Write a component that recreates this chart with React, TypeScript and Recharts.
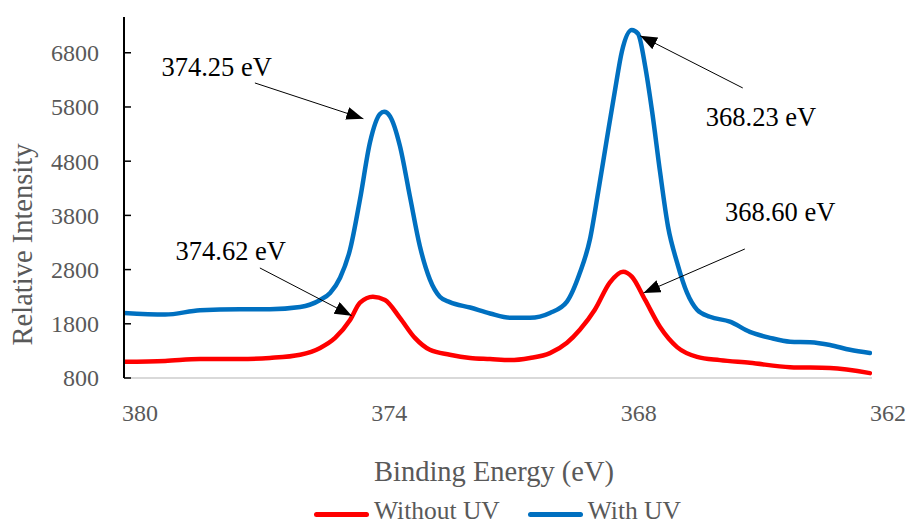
import React from 'react';
import { LineChart, Line, XAxis, YAxis, Legend, ReferenceLine, ReferenceDot } from 'recharts';

// binding energy ticks (reversed axis) and intensity ticks
const energyTicks = [380, 374, 368, 362];
const intensityTicks = [800, 1800, 2800, 3800, 4800, 5800, 6800];

// Without UV (red)
const withoutUvEnergy = [
  380.0, 379.01, 378.17, 377.21, 376.49, 375.76, 375.28, 374.92, 374.56, 374.32,
  374.01, 373.72, 373.36, 373.0, 372.64, 372.16, 371.67, 371.19, 370.71, 370.23,
  369.75, 369.34, 369.03, 368.67, 368.31, 367.99, 367.78, 367.46, 367.1, 366.69,
  366.21, 365.66, 364.94, 363.97, 363.01, 362.05,
];
const withoutUvIntensity = [
  1100, 1115, 1150, 1150, 1170, 1230, 1355, 1540, 1870, 2190,
  2300, 2240, 1910, 1540, 1320, 1230, 1170, 1150, 1130, 1170,
  1260, 1450, 1690, 2060, 2560, 2760, 2670, 2240, 1740, 1370,
  1190, 1130, 1080, 1000, 985, 890,
];

// With UV (blue)
const withUvEnergy = [
  380.0, 379.01, 378.17, 377.21, 376.49, 375.76, 375.28, 375.04, 374.8, 374.56,
  374.32, 374.08, 373.84, 373.74, 373.6, 373.36, 373.12, 372.88, 372.64, 372.4,
  372.16, 371.67, 371.19, 370.71, 370.23, 369.75, 369.34, 369.03, 368.79, 368.59,
  368.38, 368.18, 368.02, 367.78, 367.63, 367.46, 367.29, 367.1, 366.91, 366.69,
  366.45, 366.21, 365.9, 365.42, 364.94, 364.45, 363.97, 363.49, 363.01, 362.53,
  362.05,
];
const withUvIntensity = [
  2000, 1970, 2050, 2070, 2070, 2110, 2240, 2370, 2650, 3170,
  4100, 5150, 5670, 5710, 5630, 5080, 4150, 3230, 2620, 2300,
  2200, 2100, 1990, 1910, 1910, 2000, 2210, 2740, 3350, 4230,
  5210, 6130, 6820, 7220, 7150, 6560, 5710, 4600, 3600, 2930,
  2370, 2060, 1930, 1840, 1650, 1540, 1470, 1460, 1410, 1320,
  1260,
];

const seriesNames = ['Without UV', 'With UV'];

// peak annotations: text anchor, arrow start and arrow tip in axis units
const peakLabels = ['374.25 eV', '374.62 eV', '368.23 eV', '368.60 eV'];
const labelAt = [[377.77, 6378], [377.43, 2983], [364.67, 5455], [364.21, 3689]];
const arrowFrom = [[376.85, 6243], [376.73, 2830], [365.11, 6151], [365.06, 3180]];
const arrowTo = [[374.24, 5584], [374.52, 1949], [367.58, 7115], [367.5, 2368]];

const RED = '#FF0000';
const BLUE = '#0070C0';
const GREY = '#595959';

const withoutUvData = withoutUvEnergy.map((ev, i) => ({ ev, v: withoutUvIntensity[i] }));
const withUvData = withUvEnergy.map((ev, i) => ({ ev, v: withUvIntensity[i] }));

const YTick = ({ x, y, payload }: any) => (
  <g>
    <line x1={x + 25} x2={x + 32} y1={y} y2={y} stroke="#000" strokeWidth={1.5} />
    <text x={x} y={y} dy="0.35em" textAnchor="end" fontSize={24} fill={GREY}>
      {payload.value}
    </text>
  </g>
);

const XTick = ({ x, y, payload }: any) => (
  <text x={x + 16} y={y + 43} textAnchor="middle" fontSize={24} fill={GREY}>
    {payload.value}
  </text>
);

const renderLegend = (props: any) => {
  // keep series order (recharts sorts legend items by name)
  const items = [...(props.payload || [])].sort(
    (a: any, b: any) => seriesNames.indexOf(a.value) - seriesNames.indexOf(b.value)
  );
  return (
    <div
      style={{
        display: 'flex',
        justifyContent: 'center',
        alignItems: 'flex-start',
        gap: 28,
        height: 40,
        paddingLeft: 88,
        paddingTop: 13,
        boxSizing: 'border-box',
        fontSize: 25.5,
        lineHeight: '25px',
        color: GREY,
      }}
    >
      {items.map((entry: any) => (
        <div key={entry.value} style={{ display: 'flex', alignItems: 'center' }}>
          <span
            style={{
              display: 'inline-block',
              width: 55,
              height: 5,
              borderRadius: 3,
              background: entry.color,
              marginRight: 5,
              position: 'relative',
              top: 4,
            }}
          />
          <span>{entry.value}</span>
        </div>
      ))}
    </div>
  );
};

export default function App() {
  return (
    <div style={{ position: 'absolute', left: 0, top: 0, width: 907, height: 525, background: '#fff' }}>
      <svg width={0} height={0} style={{ position: 'absolute' }}>
        <defs>
          <marker
            id="arrowHead"
            markerUnits="userSpaceOnUse"
            markerWidth={18}
            markerHeight={14}
            refX={17}
            refY={6.5}
            orient="auto"
          >
            <path d="M0,0 L17,6.5 L0,13 z" fill="#000" />
          </marker>
        </defs>
      </svg>
      <LineChart
        width={907}
        height={525}
        margin={{ top: 17, right: 35, left: 0, bottom: 0 }}
        style={{ fontFamily: '"Liberation Serif", serif' }}
      >
        <XAxis
          type="number"
          dataKey="ev"
          domain={[362, 380]}
          reversed
          allowDataOverflow
          ticks={energyTicks}
          height={107}
          tickSize={0}
          tickMargin={0}
          tickLine={false}
          tick={<XTick />}
          axisLine={{ stroke: '#D9D9D9', strokeWidth: 2 }}
          label={{
            content: ({ viewBox }: any) => (
              <text
                x={viewBox.x + viewBox.width / 2 - 4}
                y={viewBox.y + 103}
                textAnchor="middle"
                fontSize={28.5}
                fill={GREY}
              >
                Binding Energy (eV)
              </text>
            ),
          }}
        />
        <YAxis
          type="number"
          domain={[800, 7460]}
          ticks={intensityTicks}
          width={124}
          tickSize={0}
          tickMargin={25}
          tickLine={false}
          tick={<YTick />}
          axisLine={{ stroke: '#000', strokeWidth: 2 }}
          label={{
            content: ({ viewBox }: any) => {
              const cx = viewBox.x + 32;
              const cy = viewBox.y + viewBox.height / 2 + 47;
              return (
                <text
                  x={cx}
                  y={cy}
                  transform={`rotate(-90, ${cx}, ${cy})`}
                  textAnchor="middle"
                  fontSize={28.5}
                  fill={GREY}
                >
                  Relative Intensity
                </text>
              );
            },
          }}
        />
        <Legend verticalAlign="bottom" content={renderLegend} wrapperStyle={{ left: 0, width: 907 }} />
        <Line
          data={withoutUvData}
          dataKey="v"
          name={seriesNames[0]}
          type="monotone"
          stroke={RED}
          strokeWidth={4.5}
          strokeLinecap="round"
          strokeLinejoin="round"
          dot={false}
          activeDot={false}
          isAnimationActive={false}
        />
        <Line
          data={withUvData}
          dataKey="v"
          name={seriesNames[1]}
          type="monotone"
          stroke={BLUE}
          strokeWidth={4.5}
          strokeLinecap="round"
          strokeLinejoin="round"
          dot={false}
          activeDot={false}
          isAnimationActive={false}
        />
        {peakLabels.map((label, i) => (
          <ReferenceLine
            key={`arrow-${label}`}
            segment={[
              { x: arrowFrom[i][0], y: arrowFrom[i][1] },
              { x: arrowTo[i][0], y: arrowTo[i][1] },
            ]}
            stroke="#000"
            strokeWidth={1}
            markerEnd="url(#arrowHead)"
            ifOverflow="visible"
          />
        ))}
        {peakLabels.map((label, i) => (
          <ReferenceDot
            key={`label-${label}`}
            x={labelAt[i][0]}
            y={labelAt[i][1]}
            r={0}
            ifOverflow="visible"
            shape={(p: any) => (
              <text x={p.cx} y={p.cy} textAnchor="middle" fontSize={26.5} fill="#000">
                {label}
              </text>
            )}
          />
        ))}
      </LineChart>
    </div>
  );
}
